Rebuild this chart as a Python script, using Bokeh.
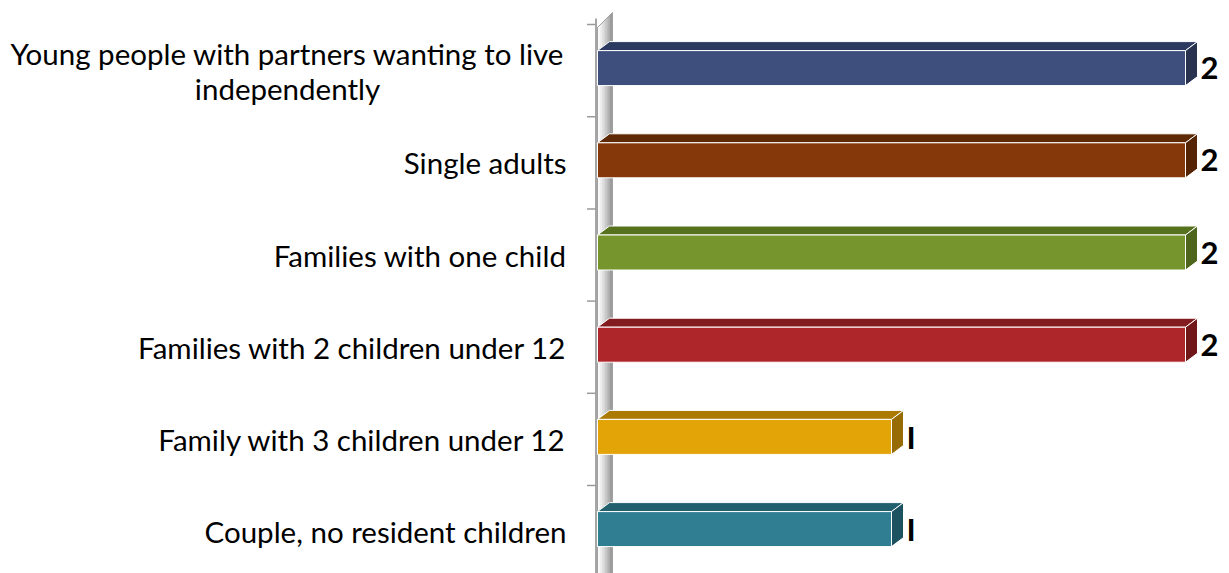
from bokeh.plotting import figure
from bokeh.models import Range1d, ColumnDataSource
from bokeh.core.properties import value
from bokeh.embed import file_html
from bokeh.resources import INLINE

categories = [
    "Young people with partners wanting to live\nindependently",
    "Single adults",
    "Families with one child",
    "Families with 2 children under 12",
    "Family with 3 children under 12",
    "Couple, no resident children",
]
values = [2, 2, 2, 2, 1, 1]
value_labels = ["2", "2", "2", "2", "I", "I"]
front_colors = ["#3e4f7d", "#85390a", "#76962d", "#ae262a", "#e2a406", "#2f7e91"]
top_colors = ["#2c3960", "#5e2906", "#57721f", "#821c1f", "#ab7a03", "#22606d"]
side_colors = ["#29334f", "#552405", "#4d661b", "#721719", "#976c04", "#1d5360"]

W, H = 1229, 573
X0_PX = 597.0          # pixel of value 0
PX_PER_UNIT = 294.0    # pixels per unit value
Y0_PX = 24.0           # pixel of the first band boundary
BAND_PX = 92.2         # pixels per category band

x_range = Range1d(-X0_PX / PX_PER_UNIT, (W - X0_PX) / PX_PER_UNIT)
y_range = Range1d((H - Y0_PX) / BAND_PX, -Y0_PX / BAND_PX)

p = figure(width=W, height=H, x_range=x_range, y_range=y_range,
           output_backend="svg", toolbar_location=None,
           min_border=0, min_border_left=0, min_border_right=0,
           min_border_top=0, min_border_bottom=0)
p.xaxis.visible = False
p.yaxis.visible = False
p.grid.visible = False
p.outline_line_color = None
p.background_fill_color = "white"
p.border_fill_color = "white"

dx = 12.0 / PX_PER_UNIT
dy = 9.0 / BAND_PX
off = 2.5 / BAND_PX
hh = 17.5 / BAND_PX

# back wall (gradient approximated with strips)
wall_w = 15.0 / PX_PER_UNIT
wall_top_left = (27.0 - Y0_PX) / BAND_PX
wall_top_right = (12.0 - Y0_PX) / BAND_PX
wall_bottom = 6.5
shades = ["#fafafa", "#ededed", "#dcdcdc", "#c8c8c8", "#b2b2b2", "#9c9c9c"]
n = len(shades)
wxs, wys = [], []
for k in range(n):
    xa = k * wall_w / n
    xb = (k + 1) * wall_w / n
    ya = wall_top_left + (wall_top_right - wall_top_left) * xa / wall_w
    yb = wall_top_left + (wall_top_right - wall_top_left) * xb / wall_w
    wxs.append([xa, xb, xb, xa])
    wys.append([ya, yb, wall_bottom, wall_bottom])
p.patches(wxs, wys, fill_color=shades, line_color=shades, line_width=0.5)
p.patch([0, wall_w, wall_w, 0], [wall_top_left, wall_top_right, wall_bottom, wall_bottom],
        fill_alpha=0, line_color="#a0a0a0", line_width=1)

# axis line and ticks
ax_x = -1.5 / PX_PER_UNIT
tick_len = 9.0 / PX_PER_UNIT
bounds = list(range(len(categories) + 1))
p.segment(x0=[ax_x], y0=[(18.0 - Y0_PX) / BAND_PX], x1=[ax_x], y1=[6.5],
          line_color="#a6a6a6", line_width=2)
p.segment(x0=[ax_x - tick_len] * len(bounds), y0=bounds,
          x1=[ax_x] * len(bounds), y1=bounds, line_color="#9a9a9a", line_width=1.5)

# bars
centers = [i + 0.5 for i in range(len(categories))]
ft = [c - off - hh for c in centers]
fb = [c - off + hh for c in centers]
top_xs = [[0, v, v + dx, dx] for v in values]
top_ys = [[t, t, t - dy, t - dy] for t in ft]
side_xs = [[v, v + dx, v + dx, v] for v in values]
side_ys = [[t, t - dy, b - dy, b] for t, b in zip(ft, fb)]

p.patches(top_xs, top_ys, fill_color=top_colors, line_color="white", line_width=1)
p.patches(side_xs, side_ys, fill_color=side_colors, line_color="white", line_width=1)
src = ColumnDataSource(dict(left=[0] * len(values), right=values, top=ft, bottom=fb,
                            color=front_colors))
p.quad(left="left", right="right", top="top", bottom="bottom", source=src,
       fill_color="color", line_color="white", line_width=1)

# value labels
vsrc = ColumnDataSource(dict(x=[v + 15.0 / PX_PER_UNIT for v in values],
                             y=[c - off for c in centers], t=value_labels))
p.text(x="x", y="y", text="t", source=vsrc, text_font=value("Lato"),
       text_font_style="bold", text_font_size="31px", text_color="black",
       text_align="left", text_baseline="middle")

# category labels
right_edge = (566.0 - X0_PX) / PX_PER_UNIT
center_first = (287.0 - X0_PX) / PX_PER_UNIT
lab_x = [center_first] + [right_edge] * (len(categories) - 1)
lab_align = ["center"] + ["right"] * (len(categories) - 1)
lsrc = ColumnDataSource(dict(x=lab_x, y=centers, t=categories, a=lab_align))
p.text(x="x", y="y", text="t", source=lsrc, text_font=value("Lato"),
       text_font_size="29.5px", text_color="black", text_align="a",
       text_baseline="middle", text_line_height=1.0)

open("out.html", "w").write(file_html(p, INLINE))
